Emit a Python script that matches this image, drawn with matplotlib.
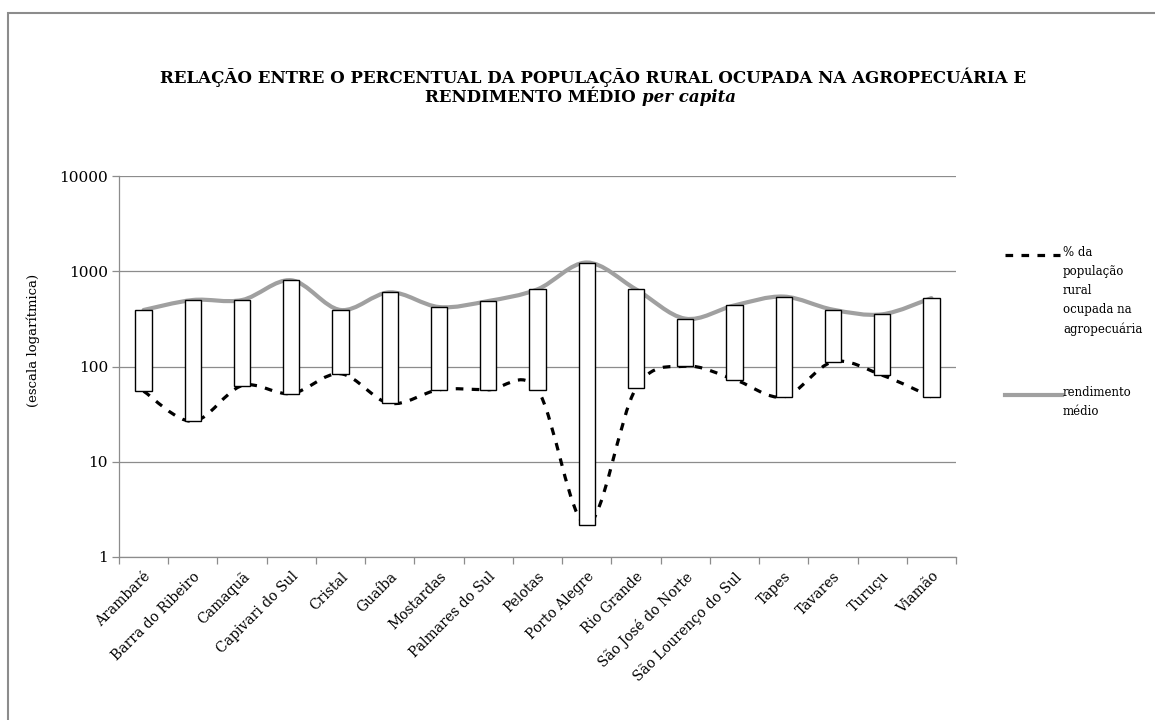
import matplotlib
matplotlib.use("Agg")
import matplotlib.pyplot as plt
import numpy as np
from matplotlib.path import Path
from matplotlib.patches import PathPatch, Rectangle
from matplotlib.lines import Line2D

plt.rcParams['font.family'] = ['DejaVu Serif', 'Liberation Serif']
plt.rcParams['lines.scale_dashes'] = False

# data
municipios = ["Arambaré", "Barra do Ribeiro", "Camaquã", "Capivari do Sul", "Cristal",
              "Guaíba", "Mostardas", "Palmares do Sul", "Pelotas", "Porto Alegre",
              "Rio Grande", "São José do Norte", "São Lourenço do Sul", "Tapes",
              "Tavares", "Turuçu", "Viamão"]
rendimento = [392, 499, 499, 804, 392, 601, 421, 487, 646, 1235, 646, 318, 438, 542, 395, 353, 523]
pct_rural = [55, 26.6, 63, 52, 84, 41, 57, 57, 57, 2.17, 59, 100.7, 73, 48, 112, 81, 48]


def smooth_path(xs, ys):
    # bezier curve through points (computed in x / log10(y) space, like Excel smoothing)
    ly = np.log10(ys)
    pts = np.column_stack([xs, ly])
    n = len(pts)
    verts = [pts[0]]
    codes = [Path.MOVETO]
    for i in range(n - 1):
        p0 = pts[i - 1] if i > 0 else pts[i]
        p1 = pts[i]
        p2 = pts[i + 1]
        p3 = pts[i + 2] if i + 2 < n else pts[i + 1]
        c1 = p1 + (p2 - p0) / 6.0
        c2 = p2 - (p3 - p1) / 6.0
        verts += [c1, c2, p2]
        codes += [Path.CURVE4] * 3
    verts = np.array(verts)
    verts[:, 1] = 10 ** verts[:, 1]
    return Path(verts, codes)


fig = plt.figure(figsize=(11.55, 7.2), dpi=100)
ax = fig.add_axes([119 / 1155, 1 - 557 / 720, (956 - 119) / 1155, (557 - 176) / 720])

x = np.arange(len(municipios))
ax.set_yscale('log')
ax.set_ylim(1, 10000)
ax.set_xlim(-0.5, len(municipios) - 0.5)

# lines
p_rend = PathPatch(smooth_path(x, np.array(rendimento, float)), facecolor='none',
                   edgecolor='#a0a0a0', lw=3.0, zorder=2, capstyle='round')
ax.add_patch(p_rend)
p_pct = PathPatch(smooth_path(x, np.array(pct_rural, float)), facecolor='none',
                  edgecolor='black', lw=2.3, zorder=2, linestyle=(0, (5.5, 6)))
ax.add_patch(p_pct)

# up/down bars
bottoms = np.minimum(rendimento, pct_rural)
tops = np.maximum(rendimento, pct_rural)
ax.bar(x, tops - bottoms, bottom=bottoms, width=0.33, color='white',
       edgecolor='black', linewidth=1.0, zorder=3)

# axes styling
ax.set_yticks([1, 10, 100, 1000, 10000])
ax.set_yticklabels(['1', '10', '100', '1000', '10000'])
ax.yaxis.set_minor_locator(matplotlib.ticker.NullLocator())
ax.grid(axis='y', color='#8c8c8c', lw=0.9)
ax.set_axisbelow(True)
for s in ['top', 'right']:
    ax.spines[s].set_visible(False)
for s in ['left', 'bottom']:
    ax.spines[s].set_color('#8c8c8c')
    ax.spines[s].set_linewidth(0.9)
ax.tick_params(axis='y', length=5, width=0.9, color='#8c8c8c', labelsize=11, pad=3)

ax.set_xticks(x)
ax.set_xticklabels(municipios, rotation=45, ha='right', va='top', rotation_mode='anchor', fontsize=10)
ax.tick_params(axis='x', which='major', length=0, pad=9)
ax.set_xticks(np.arange(-0.5, len(municipios)), minor=True)
ax.tick_params(axis='x', which='minor', length=5, width=0.9, color='#8c8c8c')

ax.set_ylabel('(escala logarítmica)', fontsize=9.5)
ax.yaxis.set_label_coords((40 - 119) / 837, (557 - 340) / 381)

# title
fig.text(160 / 1155, 1 - 83 / 720,
         "RELAÇÃO ENTRE O PERCENTUAL DA POPULAÇÃO RURAL OCUPADA NA AGROPECUÁRIA E",
         fontsize=12, fontweight='bold', ha='left', va='baseline')
t2 = fig.text(425 / 1155, 1 - 102 / 720, "RENDIMENTO MÉDIO", fontsize=12, fontweight='bold',
              ha='left', va='baseline')
fig.canvas.draw()
x_end = t2.get_window_extent().x1
fig.text((x_end + 6) / 1155, 1 - 102 / 720, "per capita", fontsize=12, fontweight='bold',
         style='italic', ha='left', va='baseline')

# legend
fig.add_artist(Line2D([1005 / 1155, 1060 / 1155], [1 - 255 / 720] * 2, color='black', lw=2.3,
                      linestyle=(0, (5.5, 6)), transform=fig.transFigure))
fig.text(1063 / 1155, 1 - 246 / 720, "% da\npopulação\nrural\nocupada na\nagropecuária",
         fontsize=8.5, ha='left', va='top', linespacing=1.6)
fig.add_artist(Line2D([1005 / 1155, 1062 / 1155], [1 - 395 / 720] * 2, color='#a0a0a0', lw=3.0,
                      transform=fig.transFigure))
fig.text(1063 / 1155, 1 - 386 / 720, "rendimento\nmédio", fontsize=8.5, ha='left', va='top',
         linespacing=1.6)

# chart area border
fig.add_artist(Rectangle((8 / 1155, -0.2), 1.2, 1.2 - 13 / 720, fill=False,
                         edgecolor='#8c8c8c', lw=1.5, transform=fig.transFigure))

fig.savefig('out.png', dpi=100)
